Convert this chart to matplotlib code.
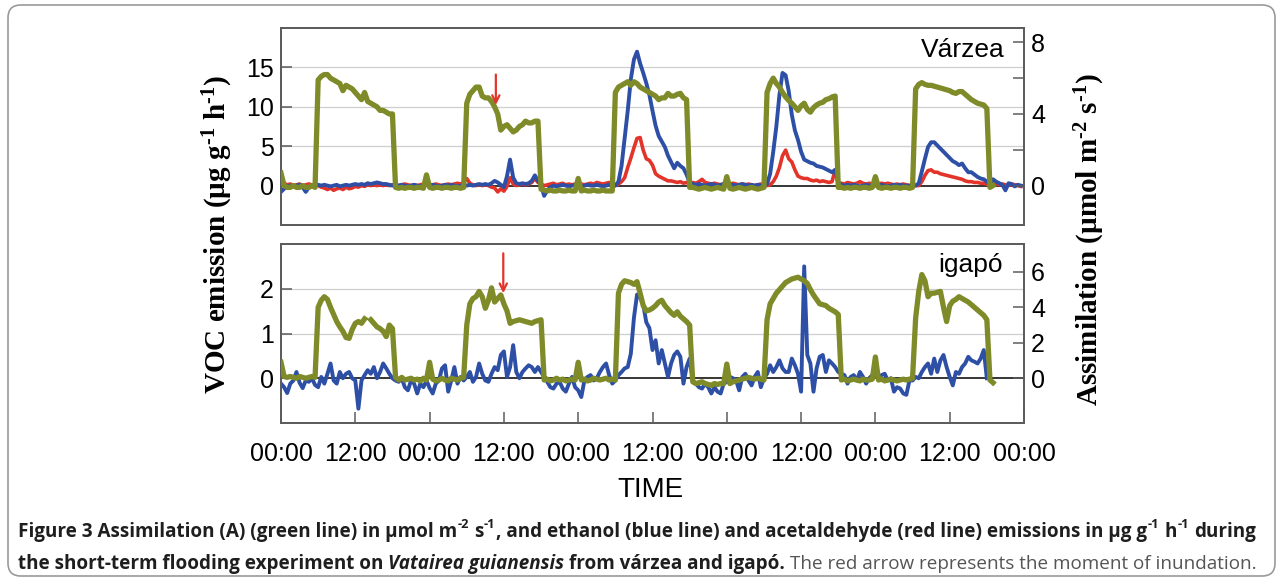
import numpy as np
import matplotlib
matplotlib.use("Agg")
import matplotlib.pyplot as plt
from matplotlib import font_manager as fm
from matplotlib.patches import FancyBboxPatch

nan = np.nan

# ---------------- data ----------------
# sampling: every half hour over 5 days (hours since first midnight)
hours = np.arange(0, 120.5, 0.5)
tick_hours = [0, 12, 24, 36, 48, 60, 72, 84, 96, 108, 120]
tick_labels = ["00:00", "12:00", "00:00", "12:00", "00:00", "12:00",
               "00:00", "12:00", "00:00", "12:00", "00:00"]

# Várzea - assimilation (µmol m-2 s-1)
varzea_assim = [
    0.7, 0.0, -0.1, -0.1, 0.0, -0.1, -0.1, 0.0, -0.1, -0.1, 0.0, -0.1,
    5.9, 6.1, 6.2, 6.2, 6.0, 5.9, 5.8, 5.7, 5.3, 5.6, 5.5, 5.4, 5.2, 5.0, 4.8, 5.2, 4.7, 4.6, 4.5, 4.4, 4.2, 4.2, 4.1, 4.0, 4.0,
    -0.1, -0.15, -0.1, -0.15, -0.1, -0.1, -0.15, -0.1, -0.1, -0.15, 0.6, -0.1, -0.15, -0.1, -0.1, -0.15, -0.1, -0.1, -0.15, -0.1, -0.1, -0.15, -0.1,
    4.6, 5.1, 5.3, 5.5, 5.5, 5.0, 4.9, 4.9, 4.7, 4.4, 4.0, 3.1, 3.3, 3.4, 3.2, 3.0, 3.1, 3.3, 3.4, 3.6, 3.5, 3.5, 3.6, 3.6, -0.2,
    -0.25, -0.3, -0.25, -0.3, -0.3, -0.25, -0.3, -0.3, -0.25, -0.3, -0.3, 0.4, -0.3, -0.25, -0.3, -0.3, -0.25, -0.3, -0.3, -0.25, -0.3, -0.3, -0.3,
    5.2, 5.5, 5.6, 5.7, 5.8, 5.6, 5.8, 5.7, 5.5, 5.4, 5.3, 5.2, 5.1, 5.0, 4.8, 4.9, 4.9, 5.15, 5.0, 5.0, 5.1, 5.15, 4.9, 4.8, -0.1,
    -0.1, -0.15, -0.2, -0.15, -0.1, -0.15, -0.2, -0.15, -0.1, -0.15, -0.2, 0.5, -0.15, -0.2, -0.15, -0.1, -0.15, -0.2, -0.15, -0.1, -0.15, -0.2, -0.15,
    -0.1, 5.2, 5.7, 6.0, 5.7, 5.5, 5.2, 4.95, 4.75, 4.6, 4.4, 4.2, 4.45, 4.6, 4.25, 4.1, 4.35, 4.5, 4.6, 4.65, 4.8, 4.85, 4.95, 5.0, -0.1,
    -0.1, -0.15, -0.1, -0.15, -0.1, -0.1, -0.15, -0.1, -0.1, -0.15, -0.1, 0.5, -0.1, -0.15, -0.1, -0.1, -0.15, -0.1, -0.1, -0.15, -0.1, -0.1, -0.15,
    -0.1, 5.4, 5.65, 5.75, 5.65, 5.6, 5.6, 5.55, 5.5, 5.45, 5.4, 5.35, 5.3, 5.2, 5.15, 5.25, 5.25, 5.1, 4.95, 4.8, 4.7, 4.6, 4.55, 4.5, 4.3,
    -0.1, 0.0, nan, nan, nan, nan, nan, nan, nan, nan, nan, nan,
]

# Várzea - ethanol (µg g-1 h-1)
varzea_ethanol = [
    -0.8, -0.4, -0.1, 0.0, -0.1, 0.0, 0.1, -0.2, -0.8, -0.2, 0.0, 0.1,
    0.1, 0.0, 0.1, 0.0, -0.1, 0.0, 0.1, -0.1, 0.0, 0.1, 0.0, 0.1, 0.2, 0.1, 0.2, 0.1, 0.3, 0.2, 0.3, 0.4, 0.3, 0.2, 0.2, 0.1, 0.0,
    0.1, 0.0, 0.1, 0.0, -0.1, 0.0, 0.1, 0.0, -0.1, 0.0, 0.1, 0.0, 0.1, 0.0, -0.1, 0.0, 0.1, 0.0, 0.1, 0.0, -0.1, 0.0, 0.1,
    0.0, 0.1, 0.0, 0.1, 0.2, 0.1, 0.2, 0.1, 0.3, 0.6, 0.4, 0.1, -0.2, 1.2, 3.3, 1.0, 0.3, 0.2, 0.3, 0.2, 0.3, 0.6, 1.3, 0.6, 0.1,
    -1.3, -0.6, -0.2, 0.0, -0.1, 0.0, 0.1, 0.0, -0.1, 0.0, 0.1, 0.0, -0.1, 0.0, 0.1, 0.0, 0.0, 0.1, 0.0, -0.1, 0.0, 0.1, 0.0,
    0.0, 0.5, 2.5, 6.0, 9.5, 13.5, 16.0, 17.0, 15.5, 14.3, 13.0, 11.5, 9.5, 7.6, 6.3, 5.6, 4.9, 3.8, 3.0, 2.2, 2.9, 2.5, 2.2, 1.4, 0.4,
    0.2, 0.1, 0.2, 0.1, 0.0, 0.1, 0.2, 0.1, 0.0, 0.1, 0.2, 0.1, 0.0, 0.1, 0.0, 0.1, 0.2, 0.1, 0.0, 0.1, 0.0, 0.1, 0.0,
    0.0, 0.2, 1.5, 4.3, 7.5, 11.5, 14.3, 14.0, 12.0, 9.0, 7.0, 5.8, 4.3, 3.3, 3.1, 2.9, 2.8, 2.5, 2.4, 2.3, 2.1, 1.9, 1.7, 2.0, 0.4,
    0.1, 0.0, 0.1, 0.0, 0.1, 0.0, -0.1, 0.0, 0.1, 0.0, 0.1, 0.0, 0.0, 0.1, 0.0, -0.1, 0.0, 0.1, 0.0, 0.1, 0.0, 0.0, 0.0,
    0.0, 0.0, 0.3, 1.8, 3.4, 4.9, 5.5, 5.5, 5.1, 4.7, 4.3, 3.9, 3.5, 3.1, 2.9, 2.6, 2.8, 2.2, 1.7, 1.7, 1.4, 1.1, 0.9, 0.8, 0.5,
    0.2, 0.8, 0.5, 0.3, 0.1, -0.6, 0.3, 0.2, -0.1, 0.1, 0.0, nan,
]

# Várzea - acetaldehyde (µg g-1 h-1)
varzea_acetaldehyde = [
    0.2, 0.3, 0.1, 0.2, 0.0, 0.1, 0.2, 0.0, 0.1, 0.2, 0.1, 0.0,
    0.0, -0.2, -0.3, -0.5, -0.3, -0.6, -0.4, -0.3, -0.5, -0.2, -0.4, -0.3, -0.1, -0.2, 0.0, -0.1, 0.1, 0.0, 0.1, 0.0, 0.1, 0.0, 0.1, 0.0, 0.1,
    0.1, 0.0, 0.1, 0.2, 0.1, 0.0, 0.1, 0.0, 0.1, 0.2, 0.1, 0.0, 0.1, 0.2, 0.1, 0.0, 0.1, 0.2, 0.1, 0.2, 0.3, 0.2, 0.4,
    0.9, 0.3, 0.1, 0.0, 0.1, 0.0, 0.1, 0.0, -0.2, -0.3, -0.8, -0.4, -0.7, -0.1, 1.0, 0.2, 0.0, 0.1, 0.2, 0.1, 0.2, 0.4, 0.9, 0.4, 0.2,
    0.0, 0.1, 0.2, 0.3, 0.1, 0.2, 0.3, 0.1, 0.2, 0.1, 0.2, 0.3, 0.2, 0.1, 0.2, 0.3, 0.2, 0.4, 0.3, 0.2, 0.3, 0.4, 0.2,
    0.0, 0.2, 0.5, 1.0, 2.3, 3.5, 4.8, 6.0, 6.1, 4.5, 3.4, 3.2, 2.6, 1.5, 1.2, 1.0, 0.8, 0.6, 0.6, 0.5, 0.4, 0.5, 0.3, 0.4, 0.2,
    0.4, 0.3, 0.5, 0.8, 0.4, 0.3, 0.2, 0.3, 0.2, 0.1, 0.2, 0.1, 0.2, 0.3, 0.2, 0.1, 0.2, 0.1, 0.2, 0.1, 0.0, 0.1, 0.2,
    0.1, 0.0, 0.1, 0.5, 1.2, 2.3, 3.8, 4.5, 3.4, 3.0, 2.0, 1.2, 1.0, 0.9, 0.9, 0.7, 0.6, 0.7, 0.5, 0.6, 0.5, 0.4, 0.5, 2.0, 0.3,
    0.3, 0.2, 0.4, 0.3, 0.2, 0.3, 0.5, 0.3, 0.2, 0.3, 0.2, 0.1, 0.2, 0.3, 0.2, 0.3, 0.2, 0.1, 0.2, 0.1, 0.2, 0.1, 0.0,
    0.1, 0.0, 0.0, 0.5, 1.3, 1.9, 2.0, 1.7, 1.7, 1.5, 1.4, 1.3, 1.2, 1.1, 1.0, 0.9, 0.8, 0.6, 0.5, 0.5, 0.4, 0.4, 0.3, 0.3, 0.2,
    0.1, 0.2, 0.3, 0.1, 0.2, 0.1, 0.0, 0.2, 0.1, 0.0, -0.1, nan,
]

# Igapó - assimilation (µmol m-2 s-1)
igapo_assim = [
    0.9, 0.1, 0.05, 0.1, 0.05, 0.0, 0.1, 0.05, 0.0, 0.05, 0.1, 0.05,
    4.0, 4.4, 4.6, 4.45, 4.0, 3.6, 3.2, 2.9, 2.65, 2.3, 2.25, 2.75, 3.1, 3.2, 3.1, 3.35, nan, 3.3, 3.1, 2.9, 2.8, 2.65, 2.35, 3.0, 2.8,
    0.05, -0.1, 0.05, -0.1, -0.05, 0.0, -0.1, -0.05, -0.15, 0.0, -0.1, 0.9, -0.05, -0.15, -0.1, 0.0, -0.1, -0.15, 0.0, -0.05, -0.1, 0.0, 0.05,
    3.0, 4.2, 4.5, 4.6, 4.9, 4.6, 3.95, 4.4, 5.1, 4.3, 4.5, 4.7, 4.2, 3.8, 3.1, 3.2, 3.25, 3.3, 3.25, 3.2, 3.15, 3.1, 3.2, 3.25, 3.3,
    -0.1, -0.05, -0.15, -0.1, 0.0, -0.1, -0.05, -0.15, -0.1, -0.05, -0.1, 0.9, -0.1, -0.05, -0.15, -0.1, 0.0, -0.05, -0.1, -0.05, 0.0, -0.1, -0.05,
    -0.1, 4.8, 5.3, 5.5, 5.45, 5.4, 5.3, 5.45, 4.8, 4.1, 3.8, 3.85, 3.95, 4.1, 4.3, 4.4, 4.1, 3.9, 3.7, 3.55, 3.75, 3.5, 3.35, 3.2, 3.0,
    -0.2, -0.3, -0.25, -0.2, -0.3, -0.35, -0.4, -0.3, -0.35, -0.3, -0.3, 0.8, -0.3, -0.2, -0.15, -0.1, -0.05, 0.0, 0.05, 0.0, -0.05, 0.0, -0.05,
    -0.1, 3.3, 4.2, 4.5, 4.8, 5.0, 5.2, 5.4, 5.5, 5.6, 5.65, 5.7, 5.6, 5.5, 5.35, 5.0, 4.7, 4.45, 4.2, 4.15, 4.1, 3.95, 3.85, 3.75, 3.6,
    -0.1, -0.05, -0.15, -0.1, -0.05, -0.1, -0.15, -0.05, -0.1, -0.1, -0.05, 1.2, -0.1, -0.05, -0.15, -0.1, -0.05, -0.1, -0.15, -0.1, -0.05, -0.1, -0.05,
    0.0, 3.4, 4.9, 5.85, 5.5, 4.6, 4.8, 4.8, 4.85, 4.9, 4.0, 3.2, 4.1, 4.35, 4.45, 4.6, 4.5, 4.4, 4.3, 4.15, 4.0, 3.85, 3.7, 3.55, 3.3,
    -0.1, -0.25, nan, nan, nan, nan, nan, nan, nan, nan, nan, nan,
]

# Igapó - ethanol (µg g-1 h-1)
igapo_ethanol = [
    -0.12, -0.2, -0.33, -0.12, -0.05, 0.14, -0.1, -0.22, -0.05, -0.08, 0.0, -0.15,
    -0.2, 0.03, -0.12, 0.1, 0.33, -0.05, -0.12, 0.14, 0.0, 0.1, 0.14, 0.0, -0.05, -0.68, -0.05, 0.07, 0.18, 0.1, 0.25, 0.0, 0.14, 0.33, 0.22, 0.1, 0.0,
    -0.05, -0.08, 0.0, -0.2, -0.27, -0.05, -0.12, -0.34, -0.12, -0.2, -0.05, -0.22, -0.34, -0.12, -0.05, 0.22, 0.29, -0.3, -0.05, 0.25, -0.12, 0.03, -0.05,
    0.03, 0.14, -0.08, 0.03, 0.33, 0.1, -0.05, -0.08, 0.1, 0.25, 0.18, 0.52, 0.6, 0.03, 0.25, 0.74, 0.14, 0.0, 0.14, 0.22, 0.29, 0.25, 0.14, 0.25, 0.14,
    0.03, -0.08, -0.2, -0.23, -0.12, -0.08, -0.23, -0.3, -0.12, 0.03, -0.2, -0.27, -0.42, -0.05, 0.03, 0.07, -0.05, 0.0, 0.14, 0.25, 0.33, 0.07, -0.12,
    -0.05, 0.07, 0.14, 0.22, 0.25, 0.55, 1.35, 1.87, 1.8, 1.65, 1.25, 1.12, 0.63, 0.85, 0.33, 0.63, 0.33, 0.03, 0.33, 0.52, 0.6, 0.48, -0.12, 0.25, 0.44,
    -0.05, -0.12, -0.2, -0.23, -0.12, -0.2, -0.34, -0.2, -0.3, -0.34, -0.12, -0.08, 0.03, 0.0, -0.05, -0.27, 0.03, 0.1, -0.05, -0.16, 0.03, 0.14, -0.2,
    0.0, 0.1, 0.29, 0.14, 0.25, 0.4, 0.22, 0.14, 0.14, 0.44, 0.29, 0.1, -0.3, 2.5, 0.52, 0.33, -0.3, 0.22, 0.48, 0.52, 0.14, 0.4, 0.33, 0.25, 0.14,
    0.1, 0.07, -0.12, 0.03, 0.07, -0.05, 0.14, 0.03, -0.12, 0.0, 0.07, 0.03, 0.03, 0.07, 0.1, -0.05, 0.0, -0.3, -0.2, -0.23, -0.34, -0.37, -0.05,
    -0.05, 0.03, 0.0, 0.14, 0.25, 0.33, 0.1, 0.44, 0.14, 0.4, 0.52, 0.25, 0.03, -0.16, 0.14, 0.1, 0.25, 0.33, 0.48, 0.4, 0.37, 0.33, 0.44, 0.63, 0.0,
    nan, nan, nan, nan, nan, nan, nan, nan, nan, nan, nan, nan,
]

# inundation arrows (hour, start value, end value on assimilation axis)
arrow_varzea = (34.7, 6.2, 4.5)
arrow_igapo = (35.9, 7.05, 4.8)

# ---------------- style ----------------
GREEN = "#7f8a28"
BLUE = "#2d4fa6"
RED = "#e3342a"
FRAME = "#5c5c5c"
GRID = "#cfcfcf"

plt.rcParams["font.family"] = ["Liberation Sans", "DejaVu Sans"]
plt.rcParams["mathtext.fontset"] = "custom"
plt.rcParams["mathtext.rm"] = "Liberation Serif:bold"
plt.rcParams["mathtext.bf"] = "Liberation Serif:bold"
plt.rcParams["mathtext.it"] = "Liberation Serif:bold:italic"

W, H = 1282, 579
fig = plt.figure(figsize=(W / 100, H / 100), dpi=100)


def fx(px):
    return px / W


def fy(py):
    return 1 - py / H


ax1 = fig.add_axes([fx(281), fy(225), (1024 - 281) / W, (225 - 28) / H])
ax3 = fig.add_axes([fx(281), fy(423), (1024 - 281) / W, (423 - 244) / H])


def style_left(ax, ylim, yticks, grid):
    ax.set_xlim(0, 120)
    ax.set_ylim(*ylim)
    ax.set_yticks(yticks)
    for g in grid:
        ax.axhline(g, color=GRID, lw=0.9, zorder=0.5)
    ax.axhline(0, color="black", lw=1.1, zorder=1)
    ax.tick_params(axis="y", direction="in", length=8, width=1.1, color=FRAME,
                   labelsize=18, pad=5)
    for s in ax.spines.values():
        s.set_color(FRAME)
        s.set_linewidth(1.3)


def style_right(ax, ylim, yticks, labels):
    ax.set_ylim(*ylim)
    ax.set_yticks(yticks)
    ax.set_yticklabels(labels)
    ax.tick_params(axis="y", direction="in", length=8, width=1.1, color=FRAME,
                   labelsize=18, pad=5)
    for s in ax.spines.values():
        s.set_color(FRAME)
        s.set_linewidth(1.3)


# top panel (várzea)
style_left(ax1, (-5, 20), [0, 5, 10, 15], [5, 10, 15])
ax1.set_xticks([])
ax1.plot(hours, varzea_acetaldehyde, color=RED, lw=2.6, zorder=2)
ax1.plot(hours, varzea_ethanol, color=BLUE, lw=2.8, zorder=3)
ax2 = ax1.twinx()
ax2.set_xlim(0, 120)
style_right(ax2, (-2.2, 8.8), [0, 2, 4, 6, 8], ["0", "", "4", "", "8"])
ax2.plot(hours, varzea_assim, color=GREEN, lw=3.8, zorder=3)
ax2.annotate("", xy=(arrow_varzea[0], arrow_varzea[2]), xytext=(arrow_varzea[0], arrow_varzea[1]),
             arrowprops=dict(arrowstyle="->", color=RED, lw=1.6, mutation_scale=13,
                             shrinkA=0, shrinkB=0), zorder=5)
ax1.text(0.974, 0.853, "Várzea", transform=ax1.transAxes, ha="right", va="baseline",
         fontsize=19, zorder=6)

# bottom panel (igapó)
style_left(ax3, (-1, 3), [0, 1, 2], [1, 2])
ax3.set_xticks(tick_hours)
ax3.set_xticklabels(tick_labels)
ax3.tick_params(axis="x", direction="in", length=8, width=1.1, color=FRAME,
                labelsize=18, pad=14)
ax3.plot(hours, igapo_ethanol, color=BLUE, lw=2.8, zorder=3)
ax4 = ax3.twinx()
ax4.set_xlim(0, 120)
style_right(ax4, (-2.525, 7.575), [0, 2, 4, 6], ["0", "2", "4", "6"])
ax4.plot(hours, igapo_assim, color=GREEN, lw=3.8, zorder=3)
ax4.annotate("", xy=(arrow_igapo[0], arrow_igapo[2]), xytext=(arrow_igapo[0], arrow_igapo[1]),
             arrowprops=dict(arrowstyle="->", color=RED, lw=1.6, mutation_scale=13,
                             shrinkA=0, shrinkB=0), zorder=5)
ax3.text(0.972, 0.844, "igapó", transform=ax3.transAxes, ha="right", va="baseline",
         fontsize=19, zorder=6)

# axis titles
fig.text(fx(218), fy(235), "VOC emission (µg g$^{\\text{-1}}$ h$^{\\text{-1}}$)",
         rotation=90, ha="center", va="center", fontsize=21,
         family="Liberation Serif", fontweight="bold")
fig.text(fx(1090), fy(240), "Assimilation (µmol m$^{\\text{-2}}$ s$^{\\text{-1}}$)",
         rotation=90, ha="center", va="center", fontsize=21,
         family="Liberation Serif", fontweight="bold")
fig.text(fx(650), fy(490), "TIME", ha="center", va="center", fontsize=20)

# ---------------- caption ----------------
available = {f.name for f in fm.fontManager.ttflist}
cap_family = next((n for n in ["Open Sans", "Noto Sans", "Lato"]
                   if n in available), "DejaVu Sans")
renderer = fig.canvas.get_renderer()
styles = {
    "B": dict(fontweight="bold", color="#1e1e1e"),
    "BI": dict(fontweight="bold", fontstyle="italic", color="#1e1e1e"),
    "R": dict(fontweight="normal", color="#555555"),
}


def measure(s, **kw):
    t = fig.text(0, 0, s, **kw)
    w = t.get_window_extent(renderer).width
    t.remove()
    return w


def draw_line(pieces, x0, base_y, size, draw=True):
    x = x0
    for txt, st, sup, sp in pieces:
        fs = size * 0.68 if sup else size
        kw = dict(family=cap_family, fontsize=fs, **styles[st])
        if sp:
            kws = dict(family=cap_family, fontsize=size, **styles[st])
            x += measure("I I", **kws) - measure("II", **kws)
        dy = size * 0.45 * 100 / 72 if sup else 0
        w = measure(txt, **kw)
        if draw:
            fig.text(fx(x), fy(base_y - dy), txt, ha="left", va="baseline", **kw)
        x += w + (1 if sup else 0)
    return x - x0


line1 = [
    ("Figure 3 Assimilation (A) (green line) in µmol m", "B", False, False),
    ("-2", "B", True, False),
    ("s", "B", False, True),
    ("-1", "B", True, False),
    (", and ethanol (blue line) and acetaldehyde (red line) emissions in µg g", "B", False, False),
    ("-1", "B", True, False),
    ("h", "B", False, True),
    ("-1", "B", True, False),
    ("during", "B", False, True),
]
line2 = [
    ("the short-term flooding experiment on", "B", False, False),
    ("Vatairea guianensis", "BI", False, True),
    ("from várzea and igapó.", "B", False, True),
    ("The red arrow represents the moment of inundation.", "R", False, True),
]
size0 = 12.0
w1 = draw_line(line1, 18, 537, size0, draw=False)
cap_size = size0 * 1250 / w1
w2 = draw_line(line2, 18, 569, cap_size, draw=False)
if w2 > 1245:
    cap_size *= 1245 / w2
draw_line(line1, 18, 537, cap_size)
draw_line(line2, 18, 569, cap_size)

# rounded frame around figure
frame = FancyBboxPatch((fx(8), fy(576)), (1275 - 8) / W, (576 - 5) / H,
                       boxstyle="round,pad=0,rounding_size=0.01",
                       mutation_aspect=W / H, transform=fig.transFigure,
                       fill=False, ec="#9a9a9a", lw=1.2)
fig.patches.append(frame)

fig.savefig("out.png", dpi=100)
